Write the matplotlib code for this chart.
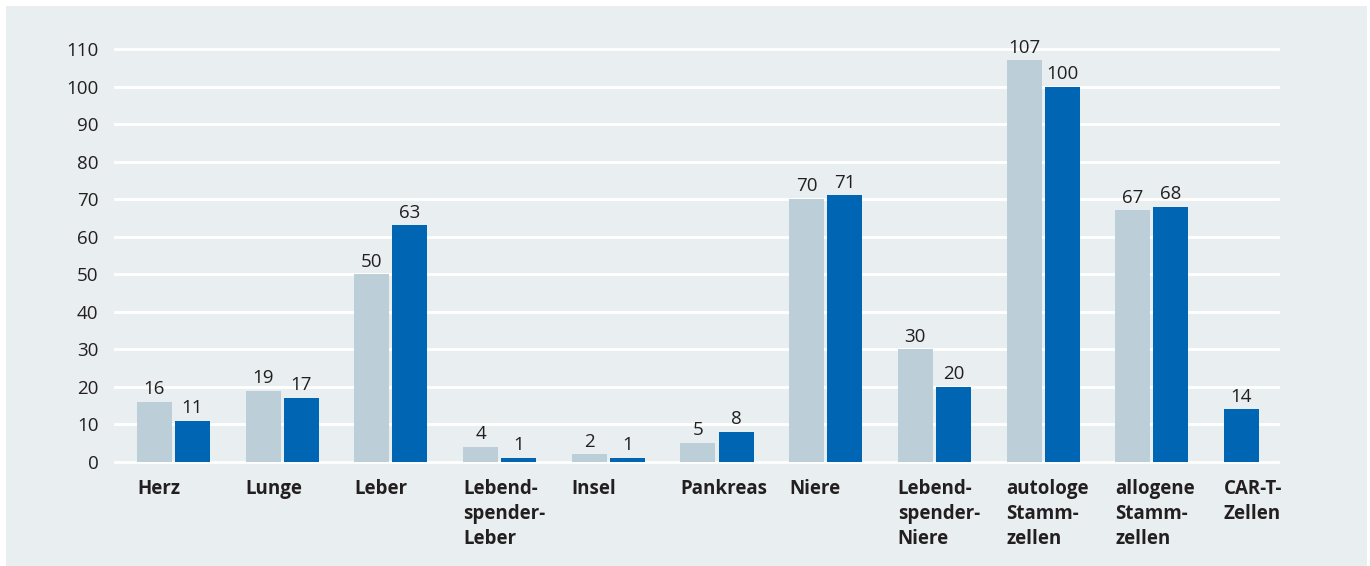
import numpy as np
import matplotlib.pyplot as plt
from matplotlib.patches import Rectangle

# Daten
kategorien = ["Herz", "Lunge", "Leber", "Lebend-\nspender-\nLeber", "Insel", "Pankreas",
              "Niere", "Lebend-\nspender-\nNiere", "autologe\nStamm-\nzellen",
              "allogene\nStamm-\nzellen", "CAR-T-\nZellen"]
werte_hell = [16, 19, 50, 4, 2, 5, 70, 30, 107, 67, None]
werte_dunkel = [11, 17, 63, 1, 1, 8, 71, 20, 100, 68, 14]
yticks = list(range(0, 111, 10))

hell = "#bccfd8"
dunkel = "#0066b3"
hintergrund = "#e9eef1"
textfarbe = "#231f20"

plt.rcParams['font.family'] = ['Open Sans', 'DejaVu Sans']

fig = plt.figure(figsize=(13.7, 5.66), dpi=100)
fig.patch.set_facecolor("white")
fig.patches.append(Rectangle((6/1370, 0), 1 - 9/1370, 1 - 6/566, transform=fig.transFigure,
                             facecolor=hintergrund, edgecolor="none", zorder=-1))

ax = fig.add_axes([115/1370, 1 - 462/566, (1278 - 115)/1370, (462 - 49)/566])
ax.set_facecolor("none")

x = np.arange(len(kategorien))
breite = 0.322
versatz = 0.175

for i, (h, d) in enumerate(zip(werte_hell, werte_dunkel)):
    if h is None:
        # nur ein Balken, an der Position des hellen Balkens
        pos_d = x[i] - versatz
    else:
        pos_d = x[i] + versatz
        ax.bar(x[i] - versatz, h, width=breite, color=hell, zorder=3)
        ax.text(x[i] - versatz, h + 1.0, str(h), ha="center", va="bottom",
                fontsize=13.5, color=textfarbe)
    ax.bar(pos_d, d, width=breite, color=dunkel, zorder=3)
    ax.text(pos_d, d + 1.0, str(d), ha="center", va="bottom", fontsize=13.5, color=textfarbe)

for i, k in enumerate(kategorien):
    ax.text(x[i] - versatz - breite/2, -4.4, k, ha="left", va="top", fontsize=13.5,
            fontweight="bold", color=textfarbe, linespacing=1.36)

ax.set_xlim(-0.538, 10.161)
ax.set_ylim(0, 110)
ax.set_yticks(yticks)
ax.set_xticks([])
ax.tick_params(axis="y", length=0, pad=12, labelsize=13.5, labelcolor=textfarbe)
for s in ax.spines.values():
    s.set_visible(False)
ax.yaxis.grid(True, color="white", linewidth=2)
for gl in ax.get_ygridlines():
    gl.set_clip_on(False)
ax.set_axisbelow(True)

fig.savefig("out.png", dpi=100, facecolor=fig.get_facecolor())
